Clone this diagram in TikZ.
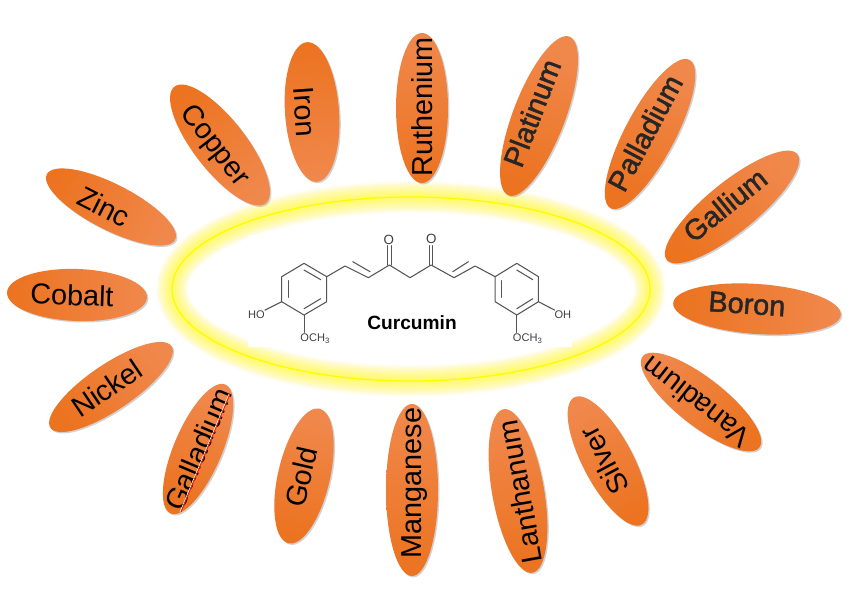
\documentclass[tikz,border=0pt]{standalone}
\usepackage{fontspec}
\setmainfont{Liberation Sans}
\newfontface\heavyfont[FakeBold=1.6]{Liberation Sans}
\usetikzlibrary{shadows}
\definecolor{petaldark}{HTML}{EC7320}
\definecolor{petalmid}{HTML}{F47C28}
\definecolor{petallight}{HTML}{F0884C}
\definecolor{glowyellow}{HTML}{FFFA00}
\definecolor{bondgray}{HTML}{555555}
\tikzset{
  petal/.style={top color=petaldark, middle color=petalmid, bottom color=petallight,
    drop shadow={shadow xshift=0.8pt, shadow yshift=-0.8pt, opacity=0.25, fill=black!70}},
  petallabel/.style={font=\fontsize{16.4}{18}\selectfont, text=black, inner sep=0pt},
  heavylabel/.style={font=\fontsize{16.4}{18}\selectfont\heavyfont, text=black!85, inner sep=0pt},
  bond/.style={bondgray, line width=0.6pt, line cap=round, line join=round},
  atomlabel/.style={font=\fontsize{6.3}{7}\selectfont, text=black!75, inner sep=0pt},
  oxygenlabel/.style={font=\fontsize{7.6}{8}\selectfont, text=black!75, inner sep=0pt}
}
\begin{document}
\begin{tikzpicture}[x=0.2mm, y=0.2mm]
    \useasboundingbox (0,0) rectangle (850,590);
    \fill[white] (0,0) rectangle (850,590);
    % Halo
    \foreach \w in {1,2,...,18}
      \draw[glowyellow, opacity=0.045, line width=\w pt] (411,301) ellipse (239 and 92);
    \draw[glowyellow, line width=0.7pt] (411,301) ellipse (239 and 92);
    \fill[white] (248,243) rectangle (572,355);
    % Petals
    \foreach \cx/\cy/\ra/\rb/\rot/\tx/\ty/\sty/\lab/\name in {
      111/383/72/23/-27/104/383/petallabel/Zinc/zinc,
      77/295/70/26/-2/72/295/petallabel/Cobalt/cobalt,
      111/203/73/23/34/107/202/petallabel/Nickel/nickel,
      198/141/70/24/67/198/141/petallabel/Galladium/galladium,
      304/114/69/26/77/301/113/petallabel/Gold/gold,
      412/100/86/26/90/415/107/petallabel/Manganese/manganese,
      518/99/83/26/100/520/98/petallabel/Lanthanum/lanthanum,
      608/129/72/25/118/604/129/petallabel/Silver/silver,
      701/188/74/24/142/696/188/petallabel/Vanadium/vanadium,
      757/281/84/25/-4/747/286/heavylabel/Boron/boron,
      732/383/84/25/39/725/385/heavylabel/Gallium/gallium,
      650/456/84/25/62/645/457/heavylabel/Palladium/palladium,
      539/474/85/26/69/532/477/heavylabel/Platinum/platinum,
      422/482/75/26/90/422/483/petallabel/Ruthenium/ruthenium,
      312/478/70/27/-86/305/478/petallabel/Iron/iron,
      220/445/74/26/-52/214/444/petallabel/Copper/copper} {
      \pgfmathsetmacro{\shang}{90+\rot}
      \path[petal, shading angle=\shang, rotate around={\rot:(\cx,\cy)}] (\cx,\cy) circle[x radius=\ra, y radius=\rb];
      \node[\sty, rotate=\rot] (\name) at (\tx,\ty) {\lab};
    }
    % Spell check line under Galladium
    \draw[white, line width=0.4pt] (180,78) -- (229,196);
    \draw[red!80!orange, line width=0.5pt] (181,78) -- (230,196);
    % Curcumin
    \node[font=\fontsize{10.9}{12}\selectfont\bfseries, inner sep=0pt] (curcumin) at (412,267) {Curcumin};
    \begin{scope}[shift={(230,380)}, x=0.0667mm, y=-0.0667mm]
      % Rings
      \draw[bond] (222,160) -- (290,200) -- (290,275) -- (222,315) -- (155,275) -- (155,200) -- cycle;
      \draw[bond] (222,180) -- (272,209);
      \draw[bond] (272,266) -- (222,296);
      \draw[bond] (175,212) -- (175,262);
      \draw[bond] (860,160) -- (925,200) -- (925,275) -- (860,315) -- (795,275) -- (795,200) -- cycle;
      \draw[bond] (860,180) -- (908,209);
      \draw[bond] (908,266) -- (860,296);
      \draw[bond] (815,212) -- (815,262);
      % Chain
      \draw[bond] (290,200) -- (345,168) -- (415,203) -- (478,165) -- (540,203)
        -- (603,165) -- (672,203) -- (735,168) -- (795,200);
      \draw[bond] (368,155) -- (420,185);
      \draw[bond] (668,185) -- (715,155);
      \draw[bond] (473,165) -- (473,107);
      \draw[bond] (483,165) -- (483,107);
      \draw[bond] (598,165) -- (598,107);
      \draw[bond] (608,165) -- (608,107);
      % Atoms
      \node[oxygenlabel] (oleft) at (476,90) {O};
      \node[oxygenlabel] (oright) at (604,88) {O};
      \node[atomlabel] (holeft) at (79,313) {HO};
      \node[atomlabel] (ohright) at (998,313) {OH};
      \node[atomlabel] (ometleft) at (256,385) {OCH\textsubscript{3}};
      \node[atomlabel] (ometright) at (893,385) {OCH\textsubscript{3}};
      \draw[bond] (155,275) -- (holeft);
      \draw[bond] (925,275) -- (ohright);
      \draw[bond] (222,315) -- (222,367);
      \draw[bond] (860,315) -- (860,367);
    \end{scope}
\end{tikzpicture}
\end{document}
